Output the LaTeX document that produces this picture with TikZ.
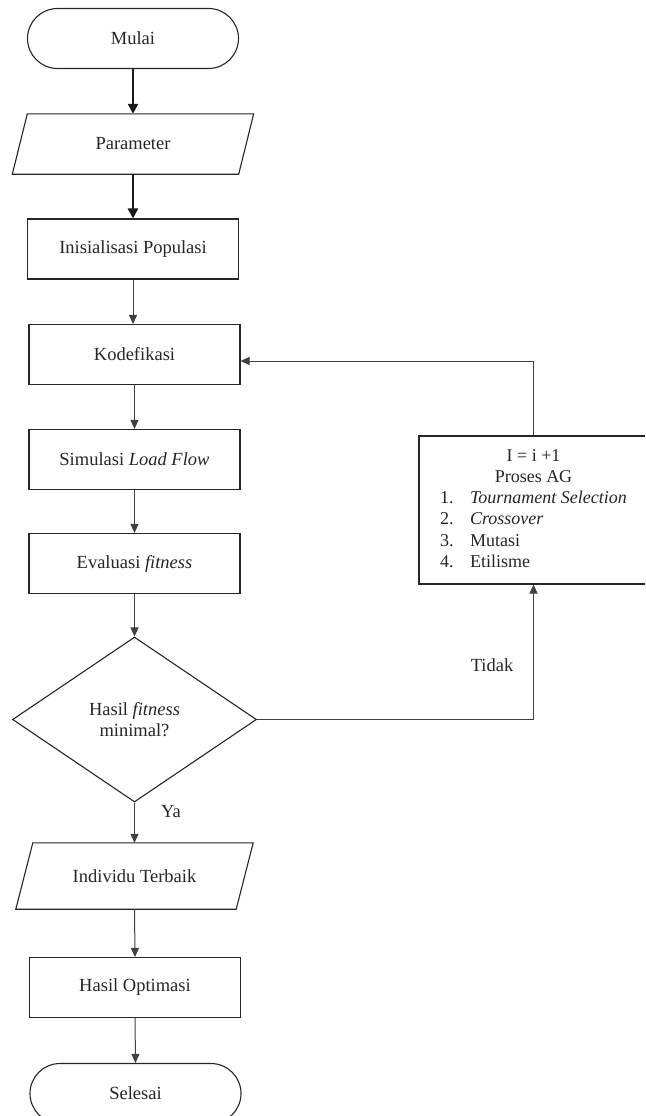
\documentclass[tikz,border=0pt]{standalone}
\usepackage{fontspec}
\setmainfont{Liberation Serif}
\usetikzlibrary{shapes.geometric,arrows.meta,calc}
\begin{document}
\begin{tikzpicture}[x=1pt,y=-1pt,
  every node/.style={font=\fontsize{18.5}{21.5}\selectfont, text=black!85},
  proc/.style={draw=black!85, line width=1.1pt, fill=white, minimum width=211pt, minimum height=60pt, inner sep=0pt},
  term/.style={proc, rounded corners=30pt},
  io/.style={minimum width=#1, minimum height=60pt, inner sep=0pt},
  iobox/.style={draw=black!85, line width=1.1pt, fill=white},
  decision/.style={draw=black!85, line width=1.1pt, fill=white, diamond, minimum width=244pt, minimum height=165pt, inner sep=0pt, align=center},
  agbox/.style={draw=black!85, line width=1.1pt, fill=white, minimum width=229pt, minimum height=148pt, inner sep=0pt, font=\fontsize{18}{21.3}\selectfont},
  thickarrow/.style={line width=2.4pt, draw=black!90, -{Triangle[length=10pt,width=10pt]}},
  arrow/.style={line width=1pt, draw=black!75, -{Triangle[length=9pt,width=8pt]}},
  lbl/.style={inner sep=0pt}
]
\useasboundingbox (0,0) rectangle (645,1116);
\clip (0,0) rectangle (645,1116);

% nodes
\node[term] (mulai) at (133,38.5) {Mulai};
\node[io=226pt] (param) at (133,144) {};
\draw[iobox] ([xshift=7.5pt]param.north west) -- ([xshift=7.5pt]param.north east)
  -- ([xshift=-7.5pt]param.south east) -- ([xshift=-7.5pt]param.south west) -- cycle;
\node (paramtext) at (param) {Parameter};
\node[proc] (init) at (133,249) {Inisialisasi Populasi};
\node[proc] (kode) at (134.5,354.5) {Kodefikasi};
\node[proc] (sim) at (134.5,459.5) {Simulasi \textit{Load Flow}};
\node[proc] (eval) at (134.5,563.5) {Evaluasi \textit{fitness}};
\node[decision] (dec) at (134.5,719.5) {Hasil \textit{fitness}\\minimal?};
\node[io=220pt, minimum height=66pt] (indiv) at (134.5,876) {};
\draw[iobox] ([xshift=8.5pt]indiv.north west) -- ([xshift=8.5pt]indiv.north east)
  -- ([xshift=-8.5pt]indiv.south east) -- ([xshift=-8.5pt]indiv.south west) -- cycle;
\node (indivtext) at (indiv) {Individu Terbaik};
\node[proc] (hasil) at (135,987.5) {Hasil Optimasi};
\node[term] (selesai) at (135.5,1093.5) {Selesai};

\node[agbox] (ag) at (533.5,510) {%
\begin{tabular}{@{}p{30pt}@{}l@{}}
\multicolumn{2}{@{}c@{}}{I = i +1}\\
\multicolumn{2}{@{}c@{}}{Proses AG}\\
1. & \textit{Tournament Selection}\\
2. & \textit{Crossover}\\
3. & Mutasi\\
4. & Etilisme
\end{tabular}};

\node[lbl] (ya) at (171,812) {Ya};
\node[lbl] (tidak) at (492,665) {Tidak};

% connectors
\draw[thickarrow] (mulai.south) -- (param.north);
\draw[thickarrow] (param.south) -- (init.north);
\draw[arrow] (init.south) -- (init.south |- kode.north);
\draw[arrow] (kode.south) -- (sim.north);
\draw[arrow] (sim.south) -- (eval.north);
\draw[arrow] (eval.south) -- (dec.north);
\draw[arrow] (dec.south) -- (indiv.north);
\draw[arrow] (indiv.south) -- (hasil.north);
\draw[arrow] (hasil.south) -- (selesai.north);
\draw[arrow] (dec.east) -| (ag.south);
\draw[arrow] (ag.north) |- ([yshift=-6.5pt]kode.east);
\end{tikzpicture}
\end{document}
